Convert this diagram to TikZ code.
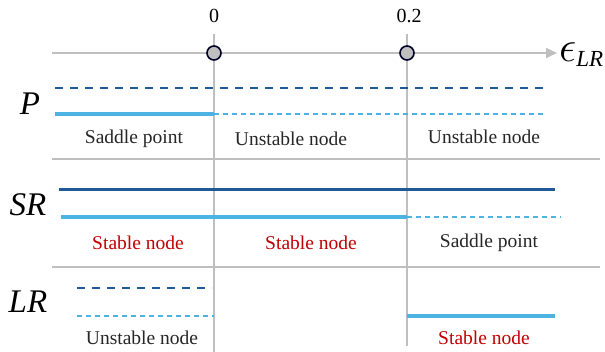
\documentclass[tikz,border=0pt]{standalone}
\usepackage{fontspec}
\setmainfont{Liberation Serif}
\usetikzlibrary{arrows.meta}
\definecolor{dkblue}{HTML}{1F5A96}
\definecolor{ltblue}{HTML}{4DB3E3}
\definecolor{redt}{HTML}{C00000}
\definecolor{grayl}{HTML}{BFBFBF}
\tikzset{
  gridline/.style={draw=grayl, line width=1.8pt},
  dkdash/.style={draw=dkblue, line width=1.8pt, dash pattern=on 8pt off 7pt},
  dksolid/.style={draw=dkblue, line width=3pt},
  ltdash/.style={draw=ltblue, line width=1.6pt, dash pattern=on 5pt off 4pt},
  ltsolid/.style={draw=ltblue, line width=3.8pt},
  lbl/.style={font=\fontsize{19.5}{21}\selectfont, text=black!85},
  red lbl/.style={lbl, text=redt},
  rowlbl/.style={font=\fontsize{33}{35}\selectfont\itshape},
  pt/.style={circle, draw=black!85!blue, line width=1.6pt, fill=black!25, minimum size=14pt, inner sep=0pt},
  tick/.style={font=\fontsize{20}{22}\selectfont}
}
\begin{document}
\begin{tikzpicture}[x=1pt,y=-1pt]
\useasboundingbox (0,0) rectangle (605,352);
% grid
\coordinate (v0t) at (214,34); \coordinate (v0b) at (214,352);
\coordinate (v2t) at (407,34); \coordinate (v2b) at (407,346);
\draw[gridline] (v0t) -- (v0b);
\draw[gridline] (v2t) -- (v2b);
\coordinate (s1a) at (52,159); \coordinate (s1b) at (600,159);
\coordinate (s2a) at (52,267); \coordinate (s2b) at (600,267);
\draw[gridline] (s1a) -- (s1b);
\draw[gridline] (s2a) -- (s2b);
% axis
\coordinate (axa) at (52,53); \coordinate (axb) at (557,53);
\draw[gridline, -{Triangle[length=11pt,width=10pt]}] (axa) -- (axb);
\node[anchor=base west, inner sep=0pt] (eps) at (559,62) {\fontsize{20}{20}\selectfont\scalebox{2.1}{$\epsilon$}\raisebox{-5pt}{\fontsize{23}{23}\selectfont\itshape LR}};
\node[pt] (c0) at (214,53) {};
\node[pt] (c2) at (407,53) {};
\node[tick] (t0) at (214,16) {0};
\node[tick] (t2) at (409,16) {0.2};
% P row
\node[rowlbl] (P) at (30,104) {P};
\draw[dkdash] (55,88) -- (545,88);
\draw[ltsolid] (55,114) -- (214,114);
\draw[ltdash] (214,114) -- (545,114);
\node[lbl] (p1) at (134,139) {Saddle point};
\node[lbl] (p2) at (291,139) {Unstable node};
\node[lbl] (p3) at (484,137) {Unstable node};
% SR row
\node[rowlbl] (SR) at (28,205) {SR};
\draw[dksolid] (59,190) -- (555,190);
\draw[ltsolid] (61,217) -- (407,217);
\draw[ltdash] (407,217) -- (561,217);
\node[red lbl] (s1) at (138,243) {Stable node};
\node[red lbl] (s2) at (311,243) {Stable node};
\node[lbl] (s3) at (489,243) {Saddle point};
% LR row
\node[rowlbl] (LR) at (28,302) {LR};
\draw[dkdash] (77,288) -- (212,288);
\draw[ltdash] (77,316) -- (214,316);
\draw[ltsolid] (407,316) -- (555,316);
\node[lbl] (l1) at (142,338) {Unstable node};
\node[red lbl] (l2) at (484,338) {Stable node};
\end{tikzpicture}
\end{document}
